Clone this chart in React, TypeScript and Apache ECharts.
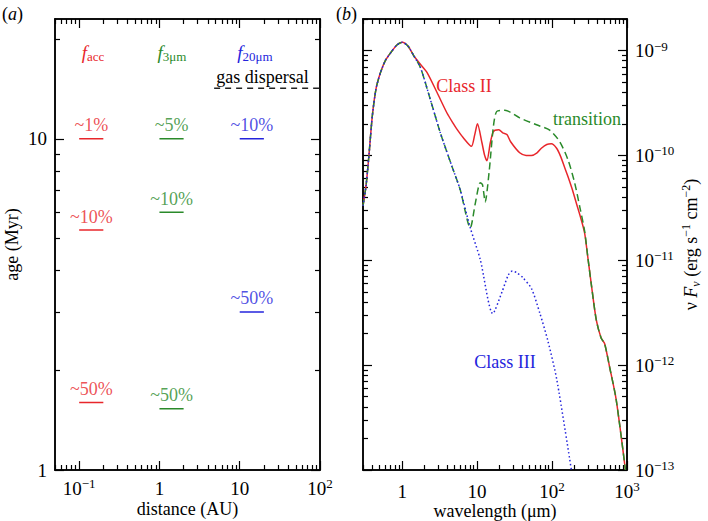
import React, { useEffect, useRef } from 'react';
import * as echarts from 'echarts';

const SERIF = '"Liberation Serif", "Times New Roman", "DejaVu Serif", serif';

// ---------- Panel (a): disk fractions vs. age ----------
const accAges = [10, 5.3, 1.6];
const accFractions = ['~1%', '~10%', '~50%'];
const nir3Ages = [10, 6.0, 1.53];
const nir3Fractions = ['~5%', '~10%', '~50%'];
const mir20Ages = [10, 3.0];
const mir20Fractions = ['~10%', '~50%'];
const accDistance = [0.1, 0.2];
const nir3Distance = [1, 2];
const mir20Distance = [10, 20];
const gasDispersalAge = 14.2;
const gasDispersalDistance = [4.8, 100];

// ---------- Panel (b): spectral energy distributions ----------
const classIIWave = [
  0.3, 0.33, 0.36, 0.4, 0.45, 0.515, 0.6, 0.7, 0.85, 1.0, 1.2, 1.43,
  1.75, 2.15, 2.92, 3.96, 4.84, 5.37, 6.5, 8.4, 9.3, 10.1, 11.6, 12.6, 13.5, 15.0, 16.3, 17.3,
  19.5, 22, 25, 28, 37, 45, 53, 63, 72, 85, 98, 115, 130, 148, 163, 185, 211, 240, 272, 300,
  333, 389, 453, 501, 584, 717, 953,
];
const classIIFlux = [
  3.3e-11, 5.2e-11, 1.0e-10, 2.4e-10, 4.4e-10, 6.2e-10, 8.1e-10, 9.5e-10, 1.13e-9, 1.2e-9, 1.1e-9, 8.9e-10,
  7.41e-10, 6.17e-10, 3.98e-10, 2.54e-10, 2.0e-10, 1.78e-10, 1.48e-10, 1.22e-10, 1.58e-10, 2.0e-10, 1.32e-10,
  1.0e-10, 8.9e-11, 1.32e-10, 1.66e-10, 1.74e-10,
  1.76e-10, 1.64e-10, 1.58e-10, 1.35e-10, 1.06e-10, 1.0e-10, 1.0e-10, 1.06e-10, 1.17e-10, 1.27e-10, 1.29e-10,
  1.17e-10, 9.8e-11, 7.6e-11, 6.3e-11, 4.8e-11, 3.5e-11, 2.57e-11, 1.82e-11, 1.07e-11,
  6.0e-12, 2.7e-12, 1.8e-12, 1.62e-12, 9.7e-13, 4.7e-13, 1.0e-13,
];
const transitionWave = [
  0.3, 0.33, 0.36, 0.4, 0.45, 0.515, 0.6, 0.7, 0.85, 1.0, 1.2, 1.43,
  1.75, 2.38, 3.23, 4.62, 5.95, 8.1, 9.5, 11.0, 11.8, 12.8, 14.5, 16.5, 18.3, 23.5, 37, 62, 93,
  126, 163, 200, 235, 272, 300, 333, 389, 453, 501, 584, 717, 953,
];
const transitionFlux = [
  3.3e-11, 5.2e-11, 1.0e-10, 2.4e-10, 4.4e-10, 6.2e-10, 8.1e-10, 9.5e-10, 1.13e-9, 1.2e-9, 1.1e-9, 8.9e-10,
  6.9e-10, 3.4e-10, 1.64e-10, 7.85e-11, 4.7e-11, 2.04e-11, 3.55e-11, 5.5e-11, 5.25e-11, 3.6e-11, 7.1e-11,
  1.9e-10, 2.63e-10, 2.7e-10, 2.28e-10, 1.96e-10, 1.74e-10,
  1.36e-10, 9.1e-11, 5.5e-11, 3.2e-11, 1.9e-11, 1.07e-11, 6.0e-12, 2.7e-12, 1.8e-12, 1.62e-12, 9.7e-13,
  4.7e-13, 1.0e-13,
];
const classIIIWave = [
  0.3, 0.33, 0.36, 0.4, 0.45, 0.515, 0.6, 0.7, 0.85, 1.0, 1.2, 1.43,
  1.75, 2.38, 3.23, 4.62, 5.95, 8.1, 11, 16.2, 21.5, 26, 29.5, 34, 41, 53, 69, 88, 116, 181,
];
const classIIIFlux = [
  3.3e-11, 5.2e-11, 1.0e-10, 2.4e-10, 4.4e-10, 6.2e-10, 8.1e-10, 9.5e-10, 1.13e-9, 1.2e-9, 1.1e-9, 8.9e-10,
  6.9e-10, 3.4e-10, 1.64e-10, 7.85e-11, 4.7e-11, 2.04e-11, 1.02e-11, 3.1e-12, 5.0e-12, 7.2e-12, 7.9e-12,
  7.6e-12, 6.8e-12, 5.4e-12, 3.1e-12, 1.7e-12, 7.2e-13, 1.0e-13,
];

// ---------- Axes ----------
const distanceRange = [0.05, 100];
const ageRange = [1, 23];
const waveRange = [0.3, 1000];
const fluxRange = [1e-13, 2e-9];
const distanceTicks = [0.1, 1, 10, 100];
const ageTicks = [1, 10];
const waveTicks = [1, 10, 100, 1000];
const fluxTicks = [1e-13, 1e-12, 1e-11, 1e-10, 1e-9];

const RED = '#e8262b';
const GREEN = '#2a8a2a';
const BLUE = '#2424dc';
const FS = 18;
const TFS = 19;

function minorTicks(range: number[]) {
  const [min, max] = range;
  const out: number[] = [];
  for (let e = Math.floor(Math.log10(min)); e <= Math.ceil(Math.log10(max)); e++) {
    for (let m = 2; m <= 9; m++) {
      const v = parseFloat((m * Math.pow(10, e)).toPrecision(6));
      if (v >= min * 0.9999 && v <= max * 1.0001) out.push(v);
    }
  }
  return out;
}

function powLabel(v: number, plain: number[]) {
  const e = Math.round(Math.log10(v));
  if (plain.includes(e)) return `{b|${e === 0 ? '1' : '10'}}`;
  return `{b|10}{s|${e < 0 ? '\u2212' : ''}${Math.abs(e)}}`;
}

const tickRich = {
  b: { fontSize: TFS, lineHeight: 22, fontFamily: SERIF, color: '#000' },
  s: { fontSize: 13, lineHeight: 12, verticalAlign: 'top', fontFamily: SERIF, color: '#000' },
};

function axis(gridIndex: number, range: number[], position: string, ticks: number[], len: number, extra: any = {}) {
  return {
    type: 'log',
    logBase: 10,
    gridIndex,
    min: range[0],
    max: range[1],
    position,
    axisLine: { show: true, onZero: false, lineStyle: { color: '#000', width: 1.5 } },
    axisTick: { show: true, inside: true, length: len, customValues: ticks, lineStyle: { color: '#000', width: 1.2 } },
    axisLabel: { show: false },
    splitLine: { show: false },
    minorTick: { show: false },
    minorSplitLine: { show: false },
    nameMoveOverlap: false,
    ...extra,
  };
}

function labelAxis(values: number[], plain: number[], margin: number) {
  return {
    show: true,
    customValues: values,
    margin,
    formatter: (v: number) => powLabel(v, plain),
    rich: tickRich,
    fontFamily: SERIF,
    fontSize: TFS,
    color: '#000',
  };
}

const MAJ = 9;
const MIN = 5;

function segments(ages: number[], range: number[], color: string) {
  return ages.map((age) => ({
    type: 'line',
    xAxisIndex: 0,
    yAxisIndex: 0,
    symbol: 'none',
    silent: true,
    data: [[range[0], age], [range[1], age]],
    lineStyle: { color, width: 1.5 },
  }));
}

function fractionLabels(ages: number[], texts: string[], range: number[], color: string) {
  const mid = Math.sqrt(range[0] * range[1]);
  return {
    type: 'scatter',
    xAxisIndex: 0,
    yAxisIndex: 0,
    symbolSize: 1,
    silent: true,
    itemStyle: { color: 'transparent' },
    data: ages.map((age, i) => ({ value: [mid, age], name: texts[i] })),
    label: { show: true, position: 'top', distance: 4, formatter: '{b}', color, fontSize: FS, fontFamily: SERIF },
  };
}

function sed(wave: number[], flux: number[], lineStyle: any, z: number) {
  return {
    type: 'line',
    xAxisIndex: 4,
    yAxisIndex: 4,
    symbol: 'none',
    silent: true,
    smooth: 0.25,
    clip: true,
    z,
    data: wave.map((w, i) => [w, flux[i]]),
    lineStyle,
  };
}

const headRich = {
  i: { fontStyle: 'italic', fontSize: 19, lineHeight: 22, fontFamily: SERIF },
  s: { fontSize: 13, lineHeight: 12, verticalAlign: 'bottom', fontFamily: SERIF },
};

function text(x: number, y: number, t: string, fill: string, align = 'center', rich: any = undefined) {
  return {
    type: 'text',
    x,
    y,
    silent: true,
    style: {
      text: t,
      fill,
      fontSize: FS,
      fontFamily: SERIF,
      align,
      verticalAlign: 'middle',
      ...(rich ? { rich } : {}),
    },
  };
}

function buildOption() {
  return {
    animation: false,
    backgroundColor: '#fff',
    textStyle: { fontFamily: SERIF },
    grid: [
      { left: 55, top: 19, width: 265, height: 451, containLabel: false, outerBoundsMode: 'none' },
      { left: 363, top: 19, width: 264, height: 451, containLabel: false, outerBoundsMode: 'none' },
    ],
    xAxis: [
      axis(0, distanceRange, 'bottom', distanceTicks, MAJ, {
        axisLabel: labelAxis(distanceTicks, [0, 1], 7),
        name: 'distance (AU)',
        nameLocation: 'middle',
        nameGap: 30,
        nameTextStyle: { fontSize: FS, fontFamily: SERIF, color: '#000' },
      }),
      axis(0, distanceRange, 'bottom', minorTicks(distanceRange), MIN),
      axis(0, distanceRange, 'top', distanceTicks, MAJ),
      axis(0, distanceRange, 'top', minorTicks(distanceRange), MIN),
      axis(1, waveRange, 'bottom', waveTicks, MAJ, {
        axisLabel: labelAxis(waveTicks, [0, 1], 10),
        name: 'wavelength (\u03bcm)',
        nameLocation: 'middle',
        nameGap: 32,
        nameTextStyle: { fontSize: FS, fontFamily: SERIF, color: '#000' },
      }),
      axis(1, waveRange, 'bottom', minorTicks(waveRange), MIN),
      axis(1, waveRange, 'top', waveTicks, MAJ),
      axis(1, waveRange, 'top', minorTicks(waveRange), MIN),
    ],
    yAxis: [
      axis(0, ageRange, 'left', ageTicks, MAJ, {
        axisLabel: labelAxis(ageTicks, [0, 1], 8),
        name: 'age (Myr)',
        nameLocation: 'middle',
        nameGap: 34,
        nameRotate: 90,
        nameTextStyle: { fontSize: FS, fontFamily: SERIF, color: '#000' },
      }),
      axis(0, ageRange, 'left', minorTicks(ageRange), MIN),
      axis(0, ageRange, 'right', ageTicks, MAJ),
      axis(0, ageRange, 'right', minorTicks(ageRange), MIN),
      axis(1, fluxRange, 'left', fluxTicks, MAJ),
      axis(1, fluxRange, 'left', minorTicks(fluxRange), MIN),
      axis(1, fluxRange, 'right', fluxTicks, MAJ, {
        axisLabel: labelAxis(fluxTicks, [], 8),
        name: '\u03bd {i|F}{sub|\u03bd} (erg s{sup|\u22121} cm{sup|\u22122})',
        nameLocation: 'middle',
        nameGap: 53,
        nameRotate: 90,
        nameTextStyle: {
          fontSize: FS,
          lineHeight: 22,
          fontFamily: SERIF,
          color: '#000',
          rich: {
            i: { fontStyle: 'italic', fontSize: FS, lineHeight: 22, fontFamily: SERIF, color: '#000' },
            sub: { fontStyle: 'italic', fontSize: 12, lineHeight: 12, verticalAlign: 'bottom', fontFamily: SERIF, color: '#000' },
            sup: { fontSize: 12, lineHeight: 12, verticalAlign: 'top', fontFamily: SERIF, color: '#000' },
          },
        },
      }),
      axis(1, fluxRange, 'right', minorTicks(fluxRange), MIN),
    ],
    graphic: [
      text(2, 14, '({i|a})', '#000', 'left', { i: { fontStyle: 'italic', fontSize: FS, fontFamily: SERIF } }),
      text(336, 14, '({i|b})', '#000', 'left', { i: { fontStyle: 'italic', fontSize: FS, fontFamily: SERIF } }),
      text(93, 52, '{i|f}{s|acc}', RED, 'center', headRich),
      text(172, 52, '{i|f}{s|3\u03bcm}', GREEN, 'center', headRich),
      text(255, 52, '{i|f}{s|20\u03bcm}', BLUE, 'center', headRich),
      text(262.5, 77, 'gas dispersal', '#000'),
      text(464, 86, 'Class II', RED),
      text(587, 119, 'transition', GREEN),
      text(505, 362, 'Class III', BLUE),
    ],
    series: [
      ...segments(accAges, accDistance, RED),
      ...segments(nir3Ages, nir3Distance, GREEN),
      ...segments(mir20Ages, mir20Distance, BLUE),
      fractionLabels(accAges, accFractions, accDistance, RED),
      fractionLabels(nir3Ages, nir3Fractions, nir3Distance, GREEN),
      fractionLabels(mir20Ages, mir20Fractions, mir20Distance, BLUE),
      {
        type: 'line',
        xAxisIndex: 0,
        yAxisIndex: 0,
        symbol: 'none',
        silent: true,
        data: gasDispersalDistance.map((d) => [d, gasDispersalAge]),
        lineStyle: { color: '#222', width: 1.5, type: [6, 5] },
      },
      sed(classIIWave, classIIFlux, { color: RED, width: 1.5 }, 2),
      sed(transitionWave, transitionFlux, { color: GREEN, width: 1.5, type: [7, 4] }, 3),
      sed(classIIIWave, classIIIFlux, { color: BLUE, width: 1.5, type: [1.5, 2.5] }, 4),
    ],
  };
}

export default function App() {
  const ref = useRef<HTMLDivElement>(null);
  useEffect(() => {
    if (!ref.current) return;
    const chart = echarts.init(ref.current, undefined, { renderer: 'svg' });
    chart.setOption(buildOption() as any);
    return () => chart.dispose();
  }, []);
  return (
    <div
      ref={ref}
      style={{ position: 'fixed', left: 0, top: 0, width: 708, height: 521, background: '#fff' }}
    />
  );
}
